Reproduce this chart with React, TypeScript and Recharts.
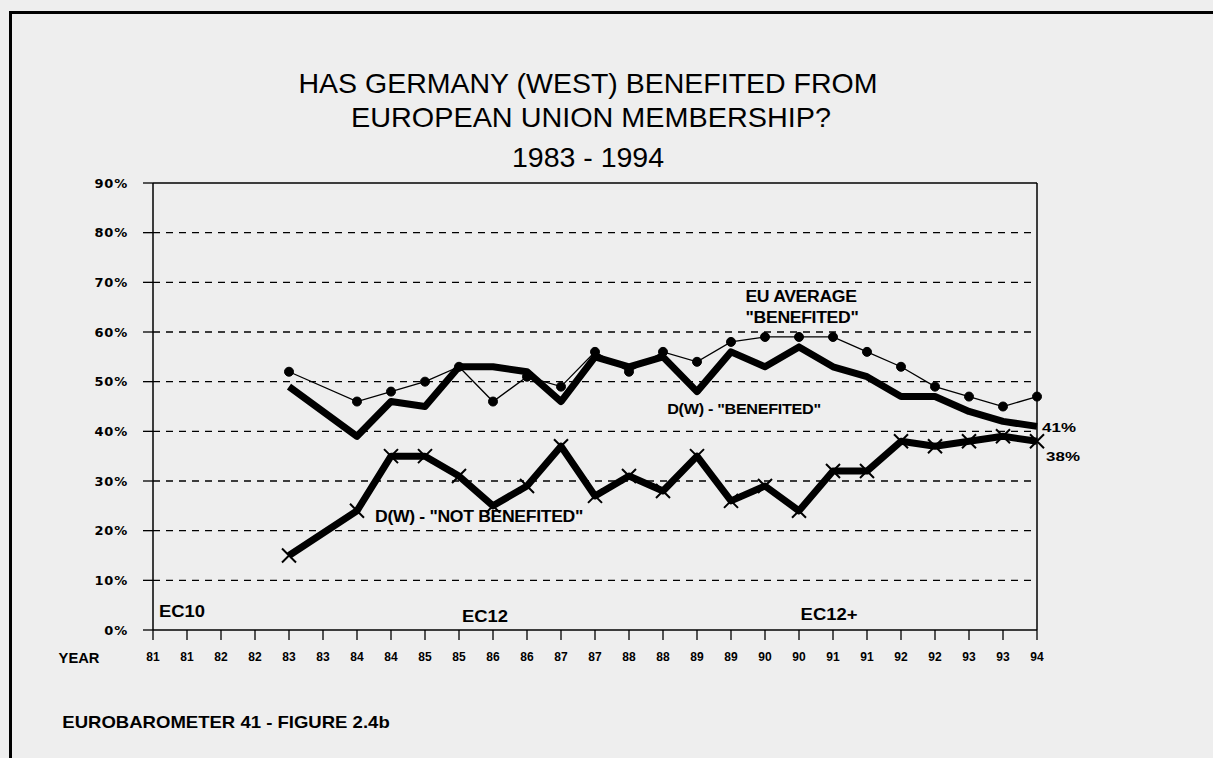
import React from "react";
import { LineChart, Line, XAxis, YAxis, ReferenceLine } from "recharts";

const yearLabels = ["81", "81", "82", "82", "83", "83", "84", "84", "85", "85", "86", "86", "87", "87", "88", "88", "89", "89", "90", "90", "91", "91", "92", "92", "93", "93", "94"];

// null = no survey for that wave
const euAverage = [null, null, null, null, 52, null, 46, 48, 50, 53, 46, 51, 49, 56, 52, 56, 54, 58, 59, 59, 59, 56, 53, 49, 47, 45, 47];
const dwBenefited = [null, null, null, null, 49, null, 39, 46, 45, 53, 53, 52, 46, 55, 53, 55, 48, 56, 53, 57, 53, 51, 47, 47, 44, 42, 41];
const dwNotBenefited = [null, null, null, null, 15, null, 24, 35, 35, 31, 25, 29, 37, 27, 31, 28, 35, 26, 29, 24, 32, 32, 38, 37, 38, 39, 38];

const yTicks = [0, 10, 20, 30, 40, 50, 60, 70, 80, 90];
const gridValues = [10, 20, 30, 40, 50, 60, 70, 80];

const data = yearLabels.map((year, i) => ({
  i,
  year,
  eu: euAverage[i],
  ben: dwBenefited[i],
  notBen: dwNotBenefited[i],
}));

const font = "'Liberation Sans', Arial, sans-serif";

const CrossDot = (props: any) => {
  const { cx, cy, value } = props;
  if (value == null || cx == null || cy == null) return null;
  const s = 7;
  return (
    <path
      key={`x-${props.index}`}
      d={`M${cx - s},${cy - s}L${cx + s},${cy + s}M${cx - s},${cy + s}L${cx + s},${cy - s}`}
      stroke="#000"
      strokeWidth={2}
    />
  );
};

const Txt = ({ x, y, size, children, weight, spacing, sx }: any) => (
  <div
    style={{
      position: "absolute",
      left: x,
      top: y,
      transform: `translate(-50%, -50%) scaleX(${sx || 1})`,
      fontSize: size,
      fontWeight: weight || "normal",
      letterSpacing: spacing || 0,
      whiteSpace: "nowrap",
      color: "#000",
      lineHeight: 1,
    }}
  >
    {children}
  </div>
);

export default function App() {
  return (
    <div
      style={{
        position: "absolute",
        left: 0,
        top: 0,
        width: 1213,
        height: 758,
        background: "#eeeeee",
        overflow: "hidden",
        fontFamily: font,
      }}
    >
      {/* page frame */}
      <div style={{ position: "absolute", left: 9, top: 11, width: 1220, height: 760, borderTop: "3px solid #000", borderLeft: "3px solid #000" }} />

      <Txt x={588} y={83} size={28.5}>HAS GERMANY (WEST) BENEFITED FROM</Txt>
      <Txt x={591} y={117} size={28.5} sx={1.01}>EUROPEAN UNION MEMBERSHIP?</Txt>
      <Txt x={588} y={157} size={28.5}>1983 - 1994</Txt>

      <div style={{ position: "absolute", left: 0, top: 0 }}>
        <LineChart
          width={1213}
          height={758}
          data={data}
          margin={{ top: 183, right: 176, bottom: 98, left: 93 }}
        >
          {gridValues.map((v) => (
            <ReferenceLine key={v} y={v} stroke="#000" strokeWidth={1.3} strokeDasharray="7 6" />
          ))}
          <ReferenceLine y={90} stroke="#000" strokeWidth={1.5} />
          <ReferenceLine x={yearLabels.length - 1} stroke="#000" strokeWidth={1.5} />
          <XAxis
            dataKey="i"
            type="category"
            interval={0}
            height={30}
            tickSize={10}
            tickMargin={12}
            axisLine={{ stroke: "#000", strokeWidth: 1.5 }}
            tickLine={{ stroke: "#000", strokeWidth: 1.3 }}
            tickFormatter={(v: any) => yearLabels[Number(v)]}
            tick={{ fill: "#000", fontSize: 12, fontWeight: "bold", fontFamily: font }}
          />
          <YAxis
            type="number"
            domain={[0, 90]}
            ticks={yTicks}
            interval={0}
            width={60}
            tickSize={10}
            tickMargin={15}
            axisLine={{ stroke: "#000", strokeWidth: 1.5 }}
            tickLine={{ stroke: "#000", strokeWidth: 1.3 }}
            tickFormatter={(v: number) => `${v}%`}
            tick={{ fill: "#000", fontSize: 13, fontWeight: "bold", fontFamily: "'DejaVu Sans', sans-serif", letterSpacing: 0.8 }}
          />
          <Line
            dataKey="eu"
            stroke="#000"
            strokeWidth={1.3}
            connectNulls
            dot={{ r: 4.5, fill: "#000", stroke: "#000", strokeWidth: 1 }}
            isAnimationActive={false}
          />
          <Line
            dataKey="ben"
            stroke="#000"
            strokeWidth={7}
            strokeLinejoin="round"
            connectNulls
            dot={false}
            isAnimationActive={false}
          />
          <Line
            dataKey="notBen"
            stroke="#000"
            strokeWidth={7}
            strokeLinejoin="round"
            connectNulls
            dot={<CrossDot />}
            isAnimationActive={false}
          />
        </LineChart>
      </div>

      <Txt x={801} y={297} size={16} weight="bold" spacing={-0.3} sx={1.1}>EU AVERAGE</Txt>
      <Txt x={802} y={318} size={16} weight="bold" spacing={-0.3} sx={1.1}>"BENEFITED"</Txt>
      <Txt x={744} y={408} size={15} weight="bold" spacing={-0.3} sx={1.08}>D(W) - "BENEFITED"</Txt>
      <Txt x={479} y={517} size={16} weight="bold" spacing={-0.3} sx={1.1}>D(W) - "NOT BENEFITED"</Txt>
      <Txt x={1059} y={427} size={13} weight="bold" sx={1.3}>41%</Txt>
      <Txt x={1063} y={456} size={13} weight="bold" sx={1.3}>38%</Txt>
      <Txt x={182} y={612} size={16} weight="bold" sx={1.15}>EC10</Txt>
      <Txt x={485} y={617} size={16} weight="bold" sx={1.15}>EC12</Txt>
      <Txt x={829} y={615} size={16} weight="bold" sx={1.15}>EC12+</Txt>
      <Txt x={79} y={658} size={14} weight="bold" sx={1.05}>YEAR</Txt>
      <Txt x={226} y={722} size={17} weight="bold" sx={1.09}>EUROBAROMETER 41 - FIGURE 2.4b</Txt>
    </div>
  );
}
